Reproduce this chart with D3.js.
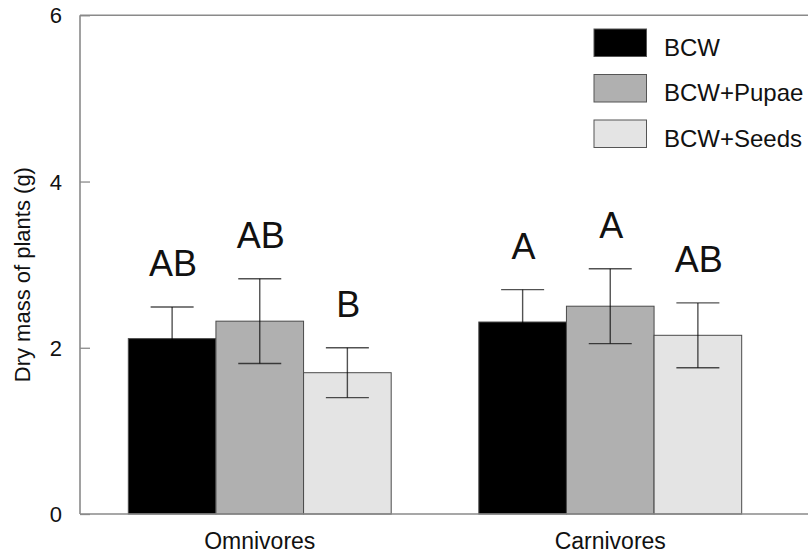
<!DOCTYPE html>
<html>
<head>
<meta charset="utf-8">
<script src="https://cdn.jsdelivr.net/npm/d3@7/dist/d3.min.js"></script>
<style>
  html, body { margin: 0; padding: 0; background: #fff; }
  svg { display: block; font-family: "Liberation Sans", Arial, sans-serif; }
</style>
</head>
<body>
<svg id="chart" width="808" height="554"></svg>
<script>
// Dry mass of plants by predator group and prey treatment (mean ± SE)
const groups = ["Omnivores", "Carnivores"];
const treatments = ["BCW", "BCW+Pupae", "BCW+Seeds"];
const omnivoresMean = [2.11, 2.32, 1.70];
const carnivoresMean = [2.31, 2.50, 2.15];
const omnivoresSE = [0.38, 0.51, 0.30];
const carnivoresSE = [0.39, 0.45, 0.39];
const omnivoresLetters = ["AB", "AB", "B"];
const carnivoresLetters = ["A", "A", "AB"];
const yTicks = [0, 2, 4, 6];
const fills = ["#000000", "#b0b0b0", "#e4e4e4"];

const means = [omnivoresMean, carnivoresMean];
const ses = [omnivoresSE, carnivoresSE];
const letters = [omnivoresLetters, carnivoresLetters];

const rows = [];
groups.forEach((g, gi) => {
  treatments.forEach((t, ti) => {
    rows.push({ group: g, treatment: t, ti, mean: means[gi][ti], se: ses[gi][ti], letter: letters[gi][ti] });
  });
});

const svg = d3.select("#chart");
const axisColor = "#8a8a8a";
const plotLeft = 80, plotTop = 15.3, plotBottom = 514, plotRight = 808;

const y = d3.scaleLinear().domain([0, 6]).range([plotBottom, plotTop]);
const x0 = d3.scaleBand().domain(groups).range([84.5, 785.5]).paddingInner(0.25).paddingOuter(0.125);
const x1 = d3.scaleBand().domain(treatments).range([0, x0.bandwidth()]);
const color = d3.scaleOrdinal().domain(treatments).range(fills);

// frame: top edge
svg.append("line").attr("x1", plotLeft).attr("x2", plotRight).attr("y1", plotTop).attr("y2", plotTop)
  .attr("stroke", axisColor).attr("stroke-width", 1.6);

// bars
svg.append("g").selectAll("rect").data(rows).join("rect")
  .attr("x", d => x0(d.group) + x1(d.treatment))
  .attr("y", d => y(d.mean))
  .attr("width", x1.bandwidth())
  .attr("height", d => y(0) - y(d.mean))
  .attr("fill", d => color(d.treatment))
  .attr("stroke", "#4a4a4a")
  .attr("stroke-width", 1);

// error bars (± SE); thin translucent black strokes
const capHalf = 21.5;
const eb = svg.append("g").attr("stroke", "#000").attr("stroke-opacity", 0.68)
  .attr("stroke-width", 1.4).attr("fill", "none");
rows.forEach(d => {
  const cx = x0(d.group) + x1(d.treatment) + x1.bandwidth() / 2;
  const yTop = y(d.mean + d.se), yBot = y(d.mean - d.se);
  eb.append("line").attr("x1", cx).attr("x2", cx).attr("y1", yTop).attr("y2", yBot);
  eb.append("line").attr("x1", cx - capHalf).attr("x2", cx + capHalf).attr("y1", yTop).attr("y2", yTop);
  eb.append("line").attr("x1", cx - capHalf).attr("x2", cx + capHalf).attr("y1", yBot).attr("y2", yBot);
});

// significance letters
svg.append("g").selectAll("text").data(rows).join("text")
  .attr("x", d => x0(d.group) + x1(d.treatment) + x1.bandwidth() / 2 + 1)
  .attr("y", d => y(d.mean + d.se) - 31)
  .attr("text-anchor", "middle")
  .attr("font-size", 36)
  .attr("fill", "#111")
  .text(d => d.letter);

// y axis
const yAxis = svg.append("g").attr("transform", `translate(${plotLeft},0)`)
  .call(d3.axisRight(y).tickValues(yTicks).tickSize(10).tickFormat(""));
yAxis.select(".domain").remove();
yAxis.selectAll("line").attr("stroke", axisColor).attr("stroke-width", 1.3);
svg.append("line").attr("x1", plotLeft).attr("x2", plotLeft).attr("y1", plotTop).attr("y2", plotBottom)
  .attr("stroke", axisColor).attr("stroke-width", 1.6);
svg.append("g").selectAll("text").data(yTicks).join("text")
  .attr("x", 62).attr("y", d => y(d) + 8)
  .attr("text-anchor", "end").attr("font-size", 22).attr("fill", "#111")
  .text(d => d);

// x axis
const xAxis = svg.append("g").attr("transform", `translate(0,${plotBottom})`)
  .call(d3.axisBottom(x0).tickSize(0).tickPadding(0));
xAxis.select(".domain").remove();
xAxis.selectAll("text").attr("font-size", 23).attr("fill", "#111").attr("dy", null).attr("y", 35)
  .attr("font-family", "Liberation Sans, Arial, sans-serif");
svg.append("line").attr("x1", plotLeft).attr("x2", plotRight).attr("y1", plotBottom).attr("y2", plotBottom)
  .attr("stroke", axisColor).attr("stroke-width", 1.6);

// y axis title
svg.append("text")
  .attr("transform", `translate(30,${(plotTop + plotBottom) / 2 + 10}) rotate(-90)`)
  .attr("text-anchor", "middle").attr("font-size", 22).attr("fill", "#111")
  .text("Dry mass of plants (g)");

// legend
const legend = svg.append("g").attr("transform", "translate(594,29)");
treatments.forEach((t, i) => {
  const g = legend.append("g").attr("transform", `translate(0,${i * 45.5})`);
  g.append("rect").attr("width", 52.5).attr("height", 27.5)
    .attr("fill", color(t)).attr("stroke", "#555").attr("stroke-width", 1);
  g.append("text").attr("x", 70).attr("y", 26.5)
    .attr("font-size", 24).attr("fill", "#111").text(t);
});
</script>
</body>
</html>
